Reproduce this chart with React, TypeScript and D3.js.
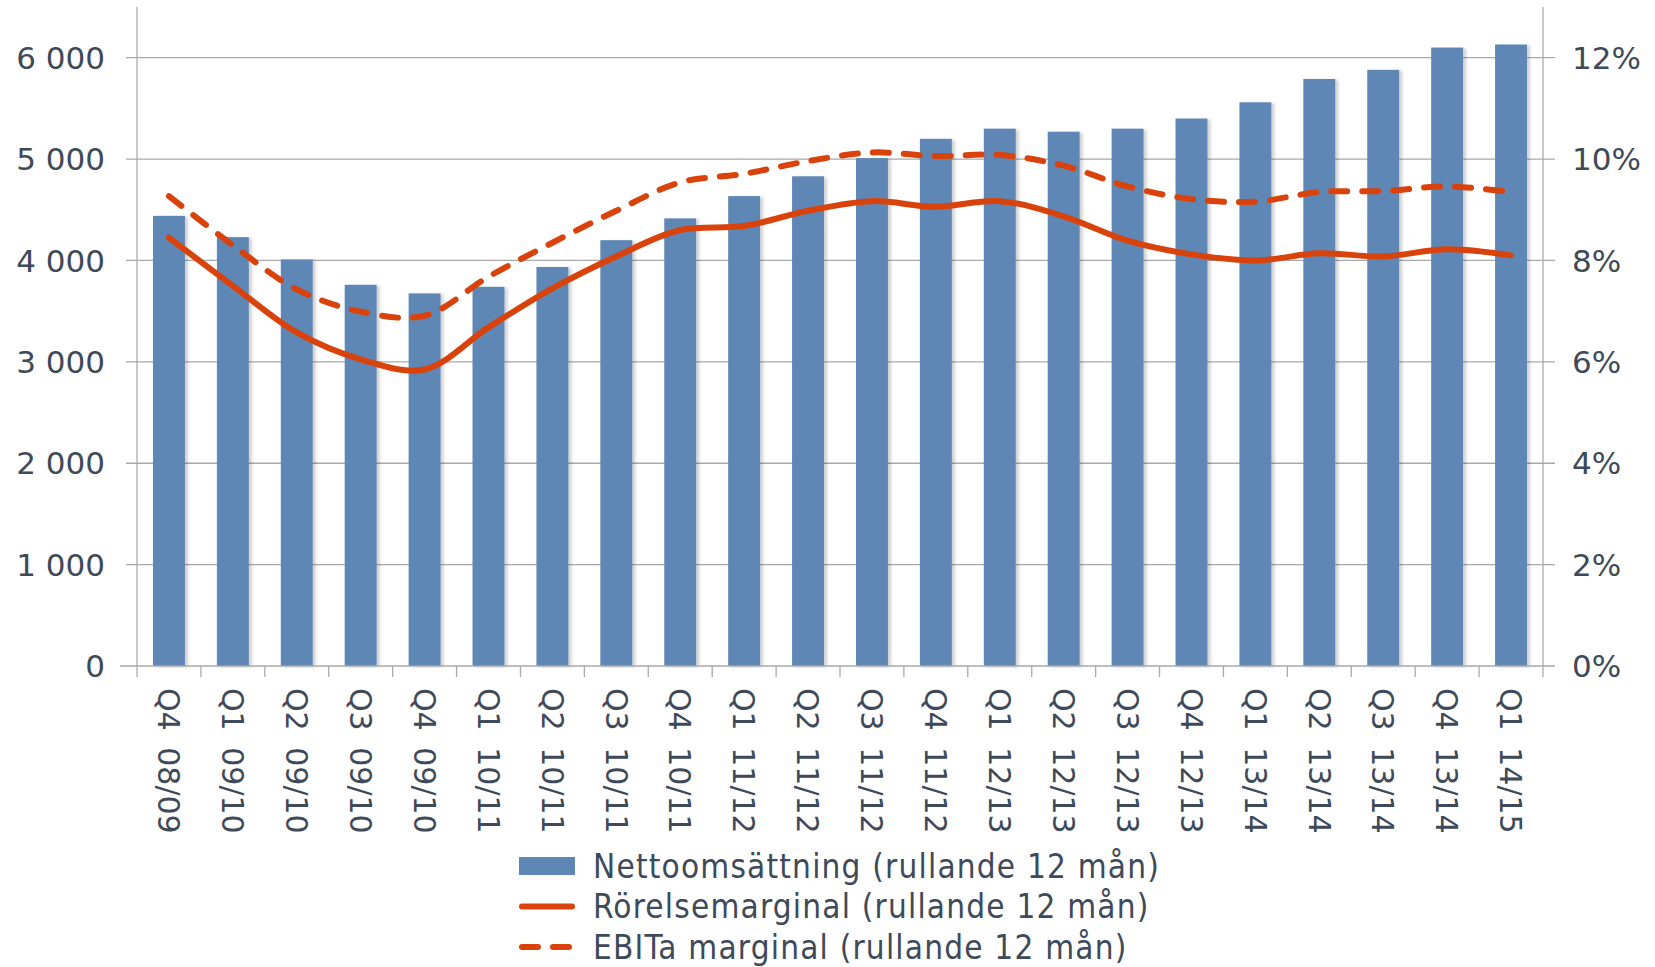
import React, { useEffect, useRef } from 'react';
import * as d3 from 'd3';

const categories = [
  'Q4 08/09', 'Q1 09/10', 'Q2 09/10', 'Q3 09/10', 'Q4 09/10', 'Q1 10/11', 'Q2 10/11', 'Q3 10/11',
  'Q4 10/11', 'Q1 11/12', 'Q2 11/12', 'Q3 11/12', 'Q4 11/12', 'Q1 12/13', 'Q2 12/13', 'Q3 12/13',
  'Q4 12/13', 'Q1 13/14', 'Q2 13/14', 'Q3 13/14', 'Q4 13/14', 'Q1 14/15'
];
// nettoomsättning, rullande 12 mån (MSEK)
const netSales = [
  4440, 4230, 4010, 3760, 3675, 3740, 3935, 4200, 4415, 4635, 4830,
  5010, 5200, 5300, 5270, 5300, 5400, 5560, 5790, 5880, 6100, 6130
];
// rörelsemarginal (%)
const operatingMargin = [
  8.45, 7.5, 6.58, 6.05, 5.85, 6.68, 7.45, 8.08, 8.6, 8.68, 8.98,
  9.17, 9.06, 9.17, 8.87, 8.39, 8.12, 8.0, 8.14, 8.08, 8.22, 8.1
];
// EBITa marginal (%)
const ebitaMargin = [
  9.27, 8.3, 7.43, 6.99, 6.91, 7.68, 8.35, 8.98, 9.54, 9.71, 9.96,
  10.13, 10.06, 10.08, 9.87, 9.46, 9.21, 9.16, 9.35, 9.37, 9.46, 9.35
];
const leftTicks = [0, 1000, 2000, 3000, 4000, 5000, 6000];
const rightTicks = [0, 2, 4, 6, 8, 10, 12];
const legendLabels = [
  'Nettoomsättning (rullande 12 mån)',
  'Rörelsemarginal (rullande 12 mån)',
  'EBITa marginal (rullande 12 mån)'
];

const App: React.FC = () => {
  const ref = useRef<SVGSVGElement>(null);

  useEffect(() => {
    const svg = d3.select(ref.current);
    svg.selectAll('*').remove();

    const left = 137, right = 1543, top = 7, bottom = 666;
    const barColor = '#5F87B5';
    const lineColor = '#D9430B';
    const textColor = '#3E4A59';
    const gridColor = '#A9A9A9';

    const x = d3.scaleBand().domain(categories).range([left, right])
      .paddingInner(0.5).paddingOuter(0.25);
    const y = d3.scaleLinear().domain([0, 6500]).range([bottom, top]);
    const y2 = d3.scaleLinear().domain([0, 13]).range([bottom, top]);
    const cx = (c: string) => (x(c) || 0) + x.bandwidth() / 2;

    const defs = svg.append('defs');
    const f = defs.append('filter').attr('id', 'shadow')
      .attr('x', '-20%').attr('y', '-5%').attr('width', '150%').attr('height', '110%');
    f.append('feDropShadow').attr('dx', 3).attr('dy', 1).attr('stdDeviation', 1.5)
      .attr('flood-color', '#000').attr('flood-opacity', 0.18);

    // grid
    svg.append('g').selectAll('line').data(leftTicks.slice(1)).join('line')
      .attr('x1', left - 11).attr('x2', right + 12)
      .attr('y1', d => y(d)).attr('y2', d => y(d))
      .attr('stroke', gridColor).attr('stroke-width', 1.3);

    // axes lines
    svg.append('line').attr('x1', left).attr('x2', left).attr('y1', top).attr('y2', bottom + 11)
      .attr('stroke', gridColor).attr('stroke-width', 1.3);
    svg.append('line').attr('x1', right).attr('x2', right).attr('y1', top).attr('y2', bottom + 11)
      .attr('stroke', gridColor).attr('stroke-width', 1.3);

    // category ticks (between bands)
    const step = x.step();
    const bounds = d3.range(1, categories.length).map(i => left + i * step);
    svg.append('g').selectAll('line').data(bounds).join('line')
      .attr('x1', d => d).attr('x2', d => d).attr('y1', bottom).attr('y2', bottom + 11)
      .attr('stroke', gridColor).attr('stroke-width', 1.3);

    // bars
    svg.append('g').selectAll('rect').data(netSales).join('rect')
      .attr('x', (_, i) => x(categories[i]) || 0)
      .attr('width', x.bandwidth())
      .attr('y', d => y(d))
      .attr('height', d => bottom - y(d))
      .attr('fill', barColor)
      .attr('filter', 'url(#shadow)');

    // baseline
    svg.append('line').attr('x1', left - 17).attr('x2', right + 12).attr('y1', bottom).attr('y2', bottom)
      .attr('stroke', gridColor).attr('stroke-width', 1.3);

    // lines
    const line = d3.line<number>()
      .x((_, i) => cx(categories[i]))
      .y(d => y2(d))
      .curve(d3.curveCatmullRom.alpha(0.5));
    svg.append('path').datum(operatingMargin).attr('d', line)
      .attr('fill', 'none').attr('stroke', lineColor).attr('stroke-width', 6)
      .attr('stroke-linecap', 'round');
    svg.append('path').datum(ebitaMargin).attr('d', line)
      .attr('fill', 'none').attr('stroke', lineColor).attr('stroke-width', 6)
      .attr('stroke-dasharray', '16 15').attr('stroke-linecap', 'round');

    // left labels
    svg.append('g').selectAll('text').data(leftTicks).join('text')
      .attr('x', 105).attr('y', d => y(d)).attr('dy', '0.36em')
      .attr('text-anchor', 'end')
      .style('font-family', 'DejaVu Sans').style('font-size', '31px').attr('fill', textColor)
      .text(d => d3.format(',')(d).replace(',', ' '));

    // right labels
    svg.append('g').selectAll('text').data(rightTicks).join('text')
      .attr('x', 1572).attr('y', d => y2(d)).attr('dy', '0.36em')
      .style('font-family', 'DejaVu Sans').style('font-size', '31px').attr('fill', textColor)
      .text(d => `${d}%`);

    // category labels
    svg.append('g').selectAll('text').data(categories).join('text')
      .attr('transform', d => `translate(${cx(d)},688) rotate(90)`)
      .attr('dy', '0.36em')
      .style('font-family', 'DejaVu Sans').style('font-size', '30px')
      .style('word-spacing', '7px').attr('fill', textColor)
      .text(d => d);

    // legend
    const legend = svg.append('g').selectAll('g').data(legendLabels).join('g')
      .attr('transform', (_, i) => `translate(0,${866 + i * 40.5})`);
    legend.filter((_, i) => i === 0).append('rect')
      .attr('x', 519).attr('y', -9).attr('width', 56).attr('height', 18).attr('fill', barColor);
    legend.filter((_, i) => i > 0).append('line')
      .attr('x1', 522).attr('x2', 572).attr('y1', 0).attr('y2', 0)
      .attr('stroke', lineColor).attr('stroke-width', 6).attr('stroke-linecap', 'round')
      .attr('stroke-dasharray', (_, i) => i === 1 ? '16 15' : null);
    legend.append('text')
      .attr('x', 593).attr('dy', '0.36em')
      .style('font-family', 'DejaVu Sans Condensed').style('font-size', '33px')
      .style('letter-spacing', '1.2px').attr('fill', textColor)
      .text(d => d);
  }, []);

  return (
    <svg ref={ref} width={1655} height={967}
      style={{ position: 'absolute', left: 0, top: 0, background: '#fff' }} />
  );
};

export default App;
